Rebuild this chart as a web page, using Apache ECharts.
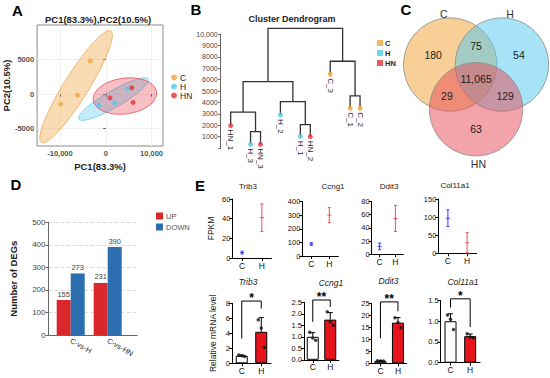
<!DOCTYPE html>
<html><head><meta charset="utf-8">
<script src="https://cdn.jsdelivr.net/npm/echarts@6/dist/echarts.min.js"></script>
<style>html,body{margin:0;padding:0;background:#fff}#c{width:550px;height:378px}</style>
</head><body><div id="c"></div>
<script>
// ================= DATA =================
// Panel A: PCA scores
const pcaGroups = ['C', 'H', 'HN'];
const pcaC  = [[-9850, -1450], [-6170, -150], [-3400, 4830]];
const pcaH  = [[-1550, -1600], [1980, -1260], [4680, 730]];
const pcaHN = [[920, -530], [5670, 910], [5960, -1200]];
const pcaXTicks = [-10000, 0, 10000];
const pcaYTicks = [-5000, 0, 5000];

// Panel B: cluster dendrogram (R hclust style merges)
const leafNames  = ['HN_1', 'H_3', 'HN_3', 'H_2', 'H_1', 'HN_2', 'C_3', 'C_1', 'C_2'];
const leafGroup  = ['HN', 'H', 'HN', 'H', 'H', 'HN', 'C', 'C', 'C'];
const leafX      = [1, 3, 4, 6, 8, 9, 11, 13, 14];
const leafHeight = [1970, 330, 330, 2900, 1000, 1000, 6470, 3490, 3490];
const mergeLeft   = [-2, -1, -5, -4, 2, -8, -7, 5];
const mergeRight  = [-3, 1, -6, 3, 4, -9, 6, 7];
const mergeHeight = [1440, 3160, 2050, 4070, 5820, 4570, 7610, 10500];

// Panel C: Venn counts
const vennSets = ['C', 'H', 'HN'];
const vennSingle = [180, 54, 63];          // only C, only H, only HN
const vennPairs  = [129, 29, 75];          // H&HN (no C), C&HN (no H), C&H (no HN)
const vennAll    = 11065;

// Panel D: DEGs
const degComparisons = ['C-vs-H', 'C-vs-HN'];
const degUp   = [155, 231];
const degDown = [273, 390];

// Panel E: FPKM (mean, sd) and qPCR
const genes = ['Trib3', 'Ccng1', 'Ddit3', 'Col11a1'];
const groupsE = ['C', 'H'];
const fpkmMeanC = [5.5, 88, 12, 97];
const fpkmSdC   = [1.5, 10, 5, 23];
const fpkmMeanH = [41, 300, 54, 29];
const fpkmSdH   = [14, 55, 19.5, 28];
const fpkmMax   = [60, 400, 80, 150];
const fpkmStep  = [20, 100, 20, 50];
const qpcrC = [[1.1, 1.0, 0.9], [1.2, 0.95, 0.85], [1.1, 0.9, 1.0], [1.15, 1.05, 0.8]];
const qpcrH = [[5.8, 4.7, 2.1], [2.09, 1.65, 1.5], [19.0, 17.0, 14.8], [0.7, 0.62, 0.6]];
const qpcrMax  = [8, 2.5, 25, 1.5];
const qpcrStep = [2, 0.5, 5, 0.5];
const signif = ['*', '**', '**', '*'];

// ================= STYLE / LAYOUT =================
const F = 'Liberation Sans, Arial, Helvetica, sans-serif';
const gColor = { C: '#F2A43A', H: '#4DC9F0', HN: '#E8303A' };
const ellFill = ['rgba(242,164,58,0.38)', 'rgba(77,201,240,0.35)', 'rgba(232,48,58,0.30)'];
const ellStroke = ['rgba(235,160,60,0.9)', 'rgba(77,201,240,0.9)', 'rgba(232,48,58,0.85)'];
const vennFill = ['rgba(240,160,48,0.5)', 'rgba(77,200,240,0.5)', 'rgba(232,74,85,0.5)'];

const topGrids = [
  { left: 232.3, top: 199, width: 39.4, height: 59 },
  { left: 302.3, top: 201.5, width: 36, height: 54.5 },
  { left: 371.7, top: 201.3, width: 31.6, height: 53 },
  { left: 438.3, top: 199, width: 38.4, height: 54.3 }
];
const botGrids = [
  { left: 232, top: 303.3, width: 39, height: 60 },
  { left: 304, top: 302.3, width: 35, height: 57.5 },
  { left: 371.7, top: 303.3, width: 35, height: 60 },
  { left: 440.7, top: 300.5, width: 39.3, height: 62.2 }
];
const topTitlePos = [[248, 186], [333, 186], [389, 186.5], [455, 185.5]];
const botTitlePos = [[248, 281.5], [331, 282.5], [388.5, 280.5], [463, 281.5]];
// bracket annotation (data units): level, left leg end, right leg end
const bracketLevel = [8.3, 2.6, 25.6, 1.54];
const bracketLeftEnd = [3.3, 1.65, 10.4, 1.33];
const bracketRightEnd = [7.3, 2.3, 21.7, 0.86];

// ================= HELPERS =================
const mean = a => a.reduce((s, v) => s + v, 0) / a.length;
const sd = a => { const m = mean(a); return Math.sqrt(a.reduce((s, v) => s + (v - m) * (v - m), 0) / (a.length - 1)); };

function confEllipse(pts) {
  const n = pts.length;
  const mx = mean(pts.map(p => p[0])), my = mean(pts.map(p => p[1]));
  let sxx = 0, syy = 0, sxy = 0;
  pts.forEach(p => { const dx = p[0] - mx, dy = p[1] - my; sxx += dx * dx; syy += dy * dy; sxy += dx * dy; });
  sxx /= (n - 1); syy /= (n - 1); sxy /= (n - 1);
  const tr = (sxx + syy) / 2, d = Math.sqrt(((sxx - syy) / 2) ** 2 + sxy * sxy);
  const l1 = tr + d, l2 = Math.max(tr - d, 0);
  const th = Math.atan2(l1 - sxx, sxy);
  const k = Math.sqrt(5.991); // chi-square 95%, 2 df
  const a = k * Math.sqrt(l1), b = k * Math.sqrt(l2);
  const out = [];
  for (let i = 0; i <= 120; i++) {
    const t = 2 * Math.PI * i / 120, u = a * Math.cos(t), v = b * Math.sin(t);
    out.push([mx + u * Math.cos(th) - v * Math.sin(th), my + u * Math.sin(th) + v * Math.cos(th)]);
  }
  return out;
}
const pcaSets = [pcaC, pcaH, pcaHN];
const ellipses = pcaSets.map(confEllipse);

const mergeX = [];
const nodeX = id => id < 0 ? leafX[-id - 1] : mergeX[id - 1];
const nodeH = id => id < 0 ? leafHeight[-id - 1] : mergeHeight[id - 1];
mergeLeft.forEach((l, i) => { mergeX[i] = (nodeX(l) + nodeX(mergeRight[i])) / 2; });

// ================= OPTION =================
const grid = [
  { left: 33, top: 25, width: 130, height: 121, show: true, borderColor: '#8a8a8a', borderWidth: 1, backgroundColor: '#fff' },
  { left: 220.7, top: 34, width: 149.3, height: 114.1 },
  { left: 392, top: 4.7, width: 154.1, height: 163.45 },
  { left: 48.5, top: 222.3, width: 88.8, height: 112.7 }
].concat(topGrids, botGrids);

const pcaFmt = v => v === 0 ? '0' : (Math.abs(v) >= 10000 ? (v < 0 ? '-' : '') + Math.abs(v).toLocaleString('en-US') : String(v));
const xAxis = [], yAxis = [];
// A
xAxis.push({ gridIndex: 0, type: 'value', min: -15000, max: 12500, interval: 5000,
  axisLine: { show: false },
  axisTick: { show: true, length: 2.5, customValues: pcaXTicks, lineStyle: { color: '#555' } },
  axisLabel: { customValues: pcaXTicks, fontSize: 7.5, fontWeight: 'bold', color: '#555', fontFamily: F, margin: 3, formatter: pcaFmt },
  splitLine: { show: true, lineStyle: { color: '#ececec', width: 0.8 } },
  name: 'PC1(83.3%)', nameLocation: 'middle', nameGap: 15,
  nameTextStyle: { fontSize: 9.5, fontWeight: 'bold', color: '#222', fontFamily: F } });
yAxis.push({ gridIndex: 0, type: 'value', min: -7500, max: 10000, interval: 2500,
  axisLine: { show: false },
  axisTick: { show: true, length: 2.5, customValues: pcaYTicks, lineStyle: { color: '#555' } },
  axisLabel: { customValues: pcaYTicks, fontSize: 7.5, fontWeight: 'bold', color: '#555', fontFamily: F, margin: 3, formatter: pcaFmt },
  splitLine: { show: true, lineStyle: { color: '#ececec', width: 0.8 } },
  name: 'PC2(10.5%)', nameLocation: 'middle', nameGap: 23,
  nameTextStyle: { fontSize: 9.5, fontWeight: 'bold', color: '#222', fontFamily: F } });
// B
xAxis.push({ gridIndex: 1, type: 'value', min: 0, max: 15, show: false });
yAxis.push({ gridIndex: 1, type: 'value', min: 0, max: 10000, interval: 1000,
  axisLine: { show: true, lineStyle: { color: '#666' } },
  axisTick: { show: true, length: 2.5, lineStyle: { color: '#666' } },
  axisLabel: { fontSize: 7, color: '#444', fontFamily: F, margin: 3,
    formatter: v => v === 0 ? '' : (v >= 10000 ? v.toLocaleString('en-US') : String(v)) },
  splitLine: { show: false } });
// C (venn canvas)
xAxis.push({ gridIndex: 2, type: 'value', min: -1.8, max: 1.5, show: false });
yAxis.push({ gridIndex: 2, type: 'value', min: -1.6, max: 1.9, inverse: true, show: false });
// D
xAxis.push({ gridIndex: 3, type: 'value', min: 0.4, max: 2.8, interval: 0.2,
  axisLine: { show: true, onZero: false, lineStyle: { color: '#666' } },
  axisTick: { show: false }, splitLine: { show: false },
  axisLabel: { rotate: -30, fontSize: 7.5, color: '#333', fontFamily: F, margin: 5,
    formatter: v => { const r = Math.round(v); return (Math.abs(v - r) < 1e-6 && r >= 1 && r <= degComparisons.length) ? degComparisons[r - 1] : ''; } } });
yAxis.push({ gridIndex: 3, type: 'value', min: 0, max: 500, interval: 100,
  axisLine: { show: true, lineStyle: { color: '#666' } },
  axisTick: { show: true, length: 3, lineStyle: { color: '#666' } },
  axisLabel: { fontSize: 8, color: '#444', fontFamily: F, margin: 3 },
  splitLine: { show: true, lineStyle: { color: '#dcdcdc', type: 'dashed' } },
  name: 'Number of DEGs', nameLocation: 'middle', nameGap: 30,
  nameTextStyle: { fontSize: 9.5, fontWeight: 'bold', color: '#222', fontFamily: F } });
// E
function eX(gi) {
  return { gridIndex: gi, type: 'category', data: groupsE,
    axisLine: { show: true, lineStyle: { color: '#000', width: 1 } },
    axisTick: { show: true, alignWithLabel: true, length: 3, lineStyle: { color: '#000' } },
    axisLabel: { fontSize: 8.5, color: '#111', fontFamily: F, margin: 3 } };
}
function eY(gi, max, step, dec, name, gap) {
  return { gridIndex: gi, type: 'value', min: 0, max: max, interval: step,
    axisLine: { show: true, lineStyle: { color: '#000', width: 1 } },
    axisTick: { show: true, length: 3, lineStyle: { color: '#000' } },
    axisLabel: { fontSize: 7.5, color: '#111', fontFamily: F, margin: 2, formatter: v => dec ? v.toFixed(1) : String(v) },
    splitLine: { show: false },
    name: name || '', nameLocation: 'middle', nameGap: gap || 0,
    nameTextStyle: { fontSize: 8.5, color: '#222', fontFamily: F } };
}
genes.forEach((g, i) => {
  xAxis.push(eX(4 + i));
  yAxis.push(eY(4 + i, fpkmMax[i], fpkmStep[i], false, i === 0 ? 'FPKM' : '', 17));
});
genes.forEach((g, i) => {
  xAxis.push(eX(8 + i));
  yAxis.push(eY(8 + i, qpcrMax[i], qpcrStep[i], qpcrStep[i] < 1, i === 0 ? 'Relative mRNA level' : '', 15));
});

const series = [];
// A ellipses
series.push({ type: 'custom', xAxisIndex: 0, yAxisIndex: 0, z: 1, silent: true,
  data: pcaGroups.map(() => [0, 0]),
  renderItem: (params, api) => {
    const g = params.dataIndex;
    return { type: 'polygon', shape: { points: ellipses[g].map(p => api.coord(p)) },
      style: { fill: ellFill[g], stroke: ellStroke[g], lineWidth: 0.8 } };
  } });
pcaGroups.forEach((g, i) => {
  series.push({ type: 'scatter', name: g, xAxisIndex: 0, yAxisIndex: 0, z: 3,
    data: pcaSets[i], symbolSize: 5, itemStyle: { color: gColor[g] } });
});
// B dendrogram
series.push({ type: 'custom', xAxisIndex: 1, yAxisIndex: 1, silent: true, z: 2,
  data: mergeHeight.map(() => [0, 0]),
  renderItem: (params, api) => {
    const i = params.dataIndex, l = mergeLeft[i], r = mergeRight[i], h = mergeHeight[i];
    const pts = [[nodeX(l), nodeH(l)], [nodeX(l), h], [nodeX(r), h], [nodeX(r), nodeH(r)]].map(p => api.coord(p));
    return { type: 'polyline', shape: { points: pts }, style: { stroke: '#333', lineWidth: 1.3, fill: null } };
  } });
series.push({ type: 'scatter', xAxisIndex: 1, yAxisIndex: 1, z: 4, symbolSize: 5,
  data: leafX.map((x, i) => ({ value: [x, leafHeight[i]], itemStyle: { color: gColor[leafGroup[i]] } })) });
series.push({ type: 'custom', xAxisIndex: 1, yAxisIndex: 1, silent: true, z: 4,
  data: leafX.map(() => [0, 0]),
  renderItem: (params, api) => {
    const i = params.dataIndex, p = api.coord([leafX[i], leafHeight[i]]);
    return { type: 'text', x: p[0], y: p[1] + 4, rotation: -Math.PI / 2,
      style: { text: leafNames[i], fill: '#222', font: '8px ' + F, align: 'left', verticalAlign: 'middle' } };
  } });
// C venn
const vAng = [210, 330, 90].map(a => a * Math.PI / 180);
const vDist = 0.639;
series.push({ type: 'custom', xAxisIndex: 2, yAxisIndex: 2, silent: true, z: 2,
  data: vennSets.map(() => [0, 0]),
  renderItem: (params, api) => {
    const i = params.dataIndex;
    const c = api.coord([vDist * Math.cos(vAng[i]), vDist * Math.sin(vAng[i])]);
    const r = api.size([1, 1])[0];
    return { type: 'circle', shape: { cx: c[0], cy: c[1], r: r },
      style: { fill: vennFill[i], stroke: '#8a8a8a', lineWidth: 0.8 } };
  } });
const vennLabelItems = [];
vennSingle.forEach((v, i) => vennLabelItems.push({ text: v, ang: vAng[i], d: 1.06 }));
vennPairs.forEach((v, i) => vennLabelItems.push({ text: v, ang: vAng[i] + Math.PI, d: 0.72 }));
vennLabelItems.push({ text: vennAll, ang: 0, d: 0 });
series.push({ type: 'custom', xAxisIndex: 2, yAxisIndex: 2, silent: true, z: 5,
  data: vennLabelItems.map(() => [0, 0]),
  renderItem: (params, api) => {
    const it = vennLabelItems[params.dataIndex];
    const p = api.coord([it.d * Math.cos(it.ang), it.d * Math.sin(it.ang)]);
    return { type: 'text', x: p[0], y: p[1],
      style: { text: it.text.toLocaleString('en-US'), fill: '#222', font: '10.5px ' + F, align: 'center', verticalAlign: 'middle' } };
  } });
const vennNamePos = [[-0.69, -1.40], [0.73, -1.40], [0.05, 1.81]];
series.push({ type: 'custom', xAxisIndex: 2, yAxisIndex: 2, silent: true, z: 5,
  data: vennSets.map(() => [0, 0]),
  renderItem: (params, api) => {
    const i = params.dataIndex, p = api.coord(vennNamePos[i]);
    return { type: 'text', x: p[0], y: p[1],
      style: { text: vennSets[i], fill: '#333', font: '10.5px ' + F, align: 'center', verticalAlign: 'middle' } };
  } });
// D bars
const barLabel = { show: true, position: 'top', fontSize: 7.5, color: '#444', fontFamily: F, distance: 2 };
series.push({ type: 'bar', name: 'UP', xAxisIndex: 3, yAxisIndex: 3, barWidth: 14, barGap: '0%',
  data: degUp.map((v, i) => [i + 1, v]), itemStyle: { color: '#D9272B' }, label: barLabel });
series.push({ type: 'bar', name: 'DOWN', xAxisIndex: 3, yAxisIndex: 3, barWidth: 14, barGap: '0%',
  data: degDown.map((v, i) => [i + 1, v]), itemStyle: { color: '#2C6EAE' }, label: barLabel });
// E top: mean +/- sd
genes.forEach((g, i) => {
  const d = [[0, fpkmMeanC[i], fpkmSdC[i]], [1, fpkmMeanH[i], fpkmSdH[i]]];
  series.push({ type: 'custom', xAxisIndex: 4 + i, yAxisIndex: 4 + i, silent: true, data: d,
    renderItem: (params, api) => {
      const x = api.value(0), m = api.value(1), s = api.value(2);
      const col = x === 0 ? '#3B3BF2' : '#E8505C';
      const t = api.coord([x, m + s]), b = api.coord([x, m - s]), c = api.coord([x, m]);
      const st = { stroke: col, lineWidth: 1 };
      return { type: 'group', children: [
        { type: 'line', shape: { x1: t[0], y1: t[1], x2: b[0], y2: b[1] }, style: st },
        { type: 'line', shape: { x1: t[0] - 1.5, y1: t[1], x2: t[0] + 1.5, y2: t[1] }, style: st },
        { type: 'line', shape: { x1: b[0] - 1.5, y1: b[1], x2: b[0] + 1.5, y2: b[1] }, style: st },
        { type: 'line', shape: { x1: c[0] - 2, y1: c[1], x2: c[0] + 2, y2: c[1] }, style: st }
      ] };
    } });
});
// E bottom: bars, error bars, dots, significance
const jitter = [-3, 0, 3];
genes.forEach((g, i) => {
  const gi = 8 + i;
  const sets = [qpcrC[i], qpcrH[i]];
  series.push({ type: 'bar', xAxisIndex: gi, yAxisIndex: gi, barWidth: 12, silent: true,
    data: sets.map((s, k) => ({ value: mean(s), itemStyle: { color: k === 0 ? '#ffffff' : '#E8141C' } })),
    itemStyle: { borderColor: '#000', borderWidth: 1 } });
  series.push({ type: 'custom', xAxisIndex: gi, yAxisIndex: gi, silent: true, z: 4,
    data: sets.map((s, k) => [k, mean(s), sd(s)]),
    renderItem: (params, api) => {
      const x = api.value(0), m = api.value(1), s = api.value(2);
      const t = api.coord([x, m + s]), c = api.coord([x, m]);
      const st = { stroke: '#000', lineWidth: 1 };
      return { type: 'group', children: [
        { type: 'line', shape: { x1: t[0], y1: t[1], x2: c[0], y2: c[1] }, style: st },
        { type: 'line', shape: { x1: t[0] - 2.5, y1: t[1], x2: t[0] + 2.5, y2: t[1] }, style: st }
      ] };
    } });
  const dots = [];
  sets.forEach((s, k) => s.forEach((v, j) => dots.push({ value: [k, v], symbolOffset: [jitter[j], 0] })));
  series.push({ type: 'scatter', xAxisIndex: gi, yAxisIndex: gi, z: 5, symbolSize: 3.5, silent: true,
    itemStyle: { color: '#111' }, data: dots });
  series.push({ type: 'custom', xAxisIndex: gi, yAxisIndex: gi, silent: true, z: 5,
    data: [[0, 0]],
    renderItem: (params, api) => {
      const a = api.coord([0, bracketLevel[i]]), b = api.coord([1, bracketLevel[i]]);
      const al = api.coord([0, bracketLeftEnd[i]]), br = api.coord([1, bracketRightEnd[i]]);
      return { type: 'group', children: [
        { type: 'polyline', shape: { points: [al, a, b, br] }, style: { stroke: '#000', lineWidth: 1, fill: null } },
        { type: 'text', x: (a[0] + b[0]) / 2, y: a[1] - 3,
          style: { text: signif[i], fill: '#000', font: 'bold 12px ' + F, align: 'center', verticalAlign: 'middle' } }
      ] };
    } });
});

// free texts
const graphic = [];
const addText = (t, x, y, font, fill) => graphic.push({ type: 'text', x: x, y: y, silent: true,
  style: { text: t, font: font, fill: fill || '#000', align: 'center', verticalAlign: 'middle' } });
[['A', 17.5, 10], ['B', 196, 9.5], ['C', 406, 9], ['D', 16, 184], ['E', 200, 185.5]].forEach(p => addText(p[0], p[1], p[2], 'bold 15px ' + F));
addText('PC1(83.3%),PC2(10.5%)', 98, 19, 'bold 9.5px ' + F, '#222');
addText('Cluster Dendrogram', 292, 19, 'bold 9px ' + F, '#222');
genes.forEach((g, i) => {
  addText(g, topTitlePos[i][0], topTitlePos[i][1], '8px ' + F, '#222');
  addText(g, botTitlePos[i][0], botTitlePos[i][1], 'italic 8.5px ' + F, '#222');
});

const option = {
  animation: false,
  backgroundColor: '#fff',
  textStyle: { fontFamily: F },
  grid: grid, xAxis: xAxis, yAxis: yAxis, series: series, graphic: graphic,
  legend: [
    { data: pcaGroups, icon: 'circle', orient: 'vertical', left: 166, top: 68, itemWidth: 6, itemHeight: 6, itemGap: 0,
      textStyle: { fontSize: 8.5, color: '#222', fontFamily: F, padding: [0, 0, 0, -2] }, selectedMode: false },
    { data: pcaGroups, icon: 'rect', orient: 'vertical', left: 372, top: 34, itemWidth: 6, itemHeight: 6, itemGap: 2,
      textStyle: { fontSize: 7.5, fontWeight: 'bold', color: '#222', fontFamily: F, padding: [0, 0, 0, -3] }, selectedMode: false },
    { data: ['UP', 'DOWN'], icon: 'rect', orient: 'vertical', left: 151, top: 207, itemWidth: 7, itemHeight: 7, itemGap: 3,
      textStyle: { fontSize: 7.5, color: '#555', fontFamily: F, padding: [0, 0, 0, -2] }, selectedMode: false }
  ]
};
const chart = echarts.init(document.getElementById('c'), null, { renderer: 'svg', width: 550, height: 378 });
chart.setOption(option);
</script>
</body></html>
